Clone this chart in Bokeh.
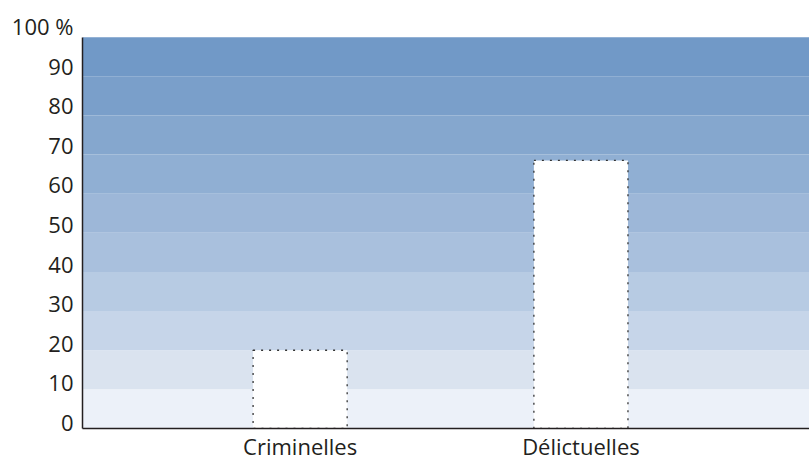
from bokeh.plotting import figure
from bokeh.models import Range1d, FixedTicker, BoxAnnotation, ColumnDataSource, LinearAxis
from bokeh.embed import file_html
from bokeh.resources import INLINE

# ---- data ----
categories = ["Criminelles", "Délictuelles"]
values = [20, 68.5]
y_ticks = [0, 10, 20, 30, 40, 50, 60, 70, 80, 90, 100]
y_tick_labels = ["0", "10", "20", "30", "40", "50", "60", "70", "80", "90", "100 %"]
band_colors = ["#ECF1F9", "#DAE3EF", "#C6D5E9", "#B7CBE3", "#A9C0DD",
               "#9DB7D8", "#90AFD3", "#85A7CE", "#7A9FCA", "#7199C7"]

FONT = "Open Sans"
TXT = "#231F20"

x_pos = list(range(len(categories)))
x_start, x_end = -0.775, 1.814

p = figure(frame_width=727, frame_height=407,
           x_range=Range1d(x_start, x_end), y_range=Range1d(0, 104),
           output_backend="svg", toolbar_location=None,
           min_border_left=82, min_border_top=21, min_border_right=0, min_border_bottom=0)
p.outline_line_color = None
p.xgrid.visible = False
p.ygrid.visible = False
p.background_fill_color = "white"
p.border_fill_color = "white"

# range used only to place the tick labels just above their bands' edges
p.extra_y_ranges = {"lab": Range1d(-1.64, 101.14)}

# background bands
for i, c in enumerate(band_colors):
    p.add_layout(BoxAnnotation(bottom=y_ticks[i], top=y_ticks[i + 1],
                               fill_color=c, fill_alpha=1, line_alpha=0,
                               level="underlay"))

# bars
src = ColumnDataSource(dict(x=x_pos, top=values))
p.vbar(x="x", top="top", bottom=0, width=0.335, source=src,
       fill_color="white", line_color="#333333", line_width=1.3, line_dash="2 6")

# x axis
p.xaxis.ticker = FixedTicker(ticks=x_pos)
p.xaxis.major_label_overrides = {x: c for x, c in zip(x_pos, categories)}
p.xaxis.major_tick_line_color = None
p.xaxis.minor_tick_line_color = None
p.xaxis.major_tick_out = 0
p.xaxis.major_tick_in = 0
p.xaxis.major_label_standoff = 2
p.xaxis.major_label_text_font = FONT
p.xaxis.major_label_text_font_size = "22px"
p.xaxis.major_label_text_color = TXT
p.xaxis.axis_line_color = TXT
p.xaxis.axis_line_width = 1.5

# y axis line (0..100 only), no labels of its own
p.yaxis.ticker = FixedTicker(ticks=[0, 100])
p.yaxis.major_label_overrides = {0: "", 100: ""}
p.yaxis.bounds = (0, 100)
p.yaxis.major_tick_line_color = None
p.yaxis.minor_tick_line_color = None
p.yaxis.major_tick_out = 0
p.yaxis.major_tick_in = 0
p.yaxis.major_label_standoff = 0
p.yaxis.axis_line_color = TXT
p.yaxis.axis_line_width = 1.5

# y tick labels
lab_axis = LinearAxis(y_range_name="lab", ticker=FixedTicker(ticks=y_ticks),
                      major_label_overrides={t: l for t, l in zip(y_ticks, y_tick_labels)},
                      axis_line_color=None, major_tick_line_color=None,
                      minor_tick_line_color=None, major_tick_out=0, major_tick_in=0,
                      major_label_standoff=9,
                      major_label_text_font=FONT, major_label_text_font_size="22px",
                      major_label_text_color=TXT)
p.add_layout(lab_axis, "left")

open("out.html", "w").write(file_html(p, INLINE))
